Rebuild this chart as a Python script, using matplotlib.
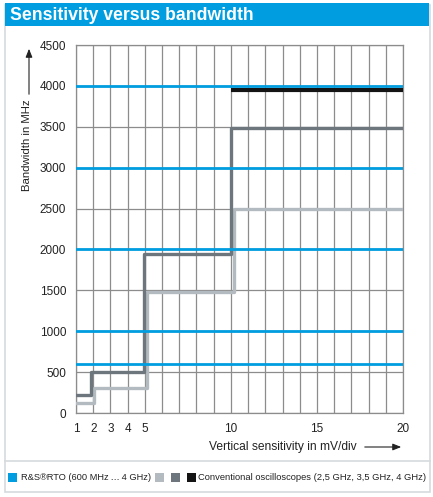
import matplotlib
matplotlib.use("Agg")
import matplotlib.pyplot as plt
from matplotlib.patches import Rectangle, FancyArrowPatch
from matplotlib.lines import Line2D

plt.rcParams['font.family'] = ['Liberation Sans', 'DejaVu Sans']

# R&S RTO models (MHz), flat over all sensitivities
rto_bw = [600, 1000, 2000, 3000, 4000]

# conventional scopes: sensitivity breakpoints (mV/div) and bandwidth (MHz)
conv_25_x = [1, 2.05, 5.15, 10.2, 20]
conv_25_bw = [125, 300, 1480, 2490, 2490]
conv_35_x = [1, 1.9, 4.95, 10, 20]
conv_35_bw = [220, 500, 1950, 3490, 3490]
conv_40_x = [10, 20]
conv_40_bw = [3955, 3955]

x_ticks = [1, 2, 3, 4, 5, 10, 15, 20]
y_ticks = [0, 500, 1000, 1500, 2000, 2500, 3000, 3500, 4000, 4500]

blue = "#009ee0"
light = "#b3bbc0"
dark = "#6d767c"
black = "#141414"
txt = "#222222"

W, H = 433, 497
fig = plt.figure(figsize=(W / 100, H / 100), dpi=100)
renderer = fig.canvas.get_renderer()


def fx(px):
    return px / W


def fy(py):
    return 1 - py / H


def fit(t, width_px):
    # scale font so the text spans a given width in pixels
    ext = t.get_window_extent(renderer)
    w = ext.height if t.get_rotation() == 90 else ext.width
    t.set_fontsize(t.get_fontsize() * width_px / w)


# outer frame, title band, legend separator
fig.patches.append(Rectangle((fx(5), fy(492)), fx(425), fy(5) - fy(492),
                             transform=fig.transFigure, fill=False, ec="#d5dadd", lw=1.2))
fig.patches.append(Rectangle((fx(5), fy(26)), fx(424), fy(3) - fy(26),
                             transform=fig.transFigure, color=blue, lw=0))
t = fig.text(fx(10), fy(15), "Sensitivity versus bandwidth", color="white",
             fontsize=13, fontweight="bold", va="center", ha="left")
fit(t, 242)
fig.lines.append(Line2D([fx(5), fx(430)], [fy(461), fy(461)], transform=fig.transFigure,
                        color="#d5dadd", lw=1.2))

ax = fig.add_axes([fx(76), fy(413), fx(403) - fx(76), fy(45) - fy(413)])
ax.set_xlim(1, 20)
ax.set_ylim(0, 4500)

for x in range(1, 21):
    ax.axvline(x, color="#8c8c8c", lw=0.9, zorder=1)
for y in y_ticks:
    ax.axhline(y, color="#8c8c8c", lw=0.9, zorder=1)

ax.plot(conv_40_x, conv_40_bw, color=black, lw=3.0, zorder=3, solid_capstyle="butt")
ax.plot(conv_25_x, conv_25_bw, drawstyle="steps-post", color=light, lw=2.4, zorder=3)
ax.plot(conv_35_x, conv_35_bw, drawstyle="steps-post", color=dark, lw=2.4, zorder=4)
for bw in rto_bw:
    ax.axhline(bw, color=blue, lw=2.0, zorder=5)

ax.set_xticks(x_ticks)
ax.set_yticks(y_ticks)
ax.tick_params(length=0, labelsize=8.5, colors=txt)
ax.tick_params(axis="x", pad=7)
ax.tick_params(axis="y", pad=7)
for s in ax.spines.values():
    s.set_color("#8c8c8c")
    s.set_linewidth(0.9)

# axis labels with arrows
t = fig.text(fx(27), fy(145), "Bandwidth in MHz", rotation=90, fontsize=8,
             ha="center", va="center", color=txt)
fit(t, 92)
fig.add_artist(FancyArrowPatch((fx(29), fy(97)), (fx(29), fy(46)),
               transform=fig.transFigure, arrowstyle="-|>,head_length=5,head_width=2",
               color=txt, lw=0.8))
t = fig.text(fx(357), fy(447), "Vertical sensitivity in mV/div", fontsize=8,
             ha="right", va="center", color=txt)
fit(t, 148)
fig.add_artist(FancyArrowPatch((fx(362), fy(447)), (fx(404), fy(447)),
               transform=fig.transFigure, arrowstyle="-|>,head_length=5,head_width=2",
               color=txt, lw=0.8))

# legend
for px, c in [(8, blue), (155, light), (171, dark), (187, black)]:
    fig.patches.append(Rectangle((fx(px), fy(482)), fx(9), fy(473) - fy(482),
                                 transform=fig.transFigure, color=c, lw=0))
t = fig.text(fx(21), fy(477.5), "R&S\u00aeRTO (600 MHz\u2009\u2026\u20094 GHz)", fontsize=8,
             ha="left", va="center", color=txt)
fit(t, 130)
t = fig.text(fx(198), fy(477.5), "Conventional oscilloscopes (2,5 GHz, 3,5 GHz, 4 GHz)",
             fontsize=8, ha="left", va="center", color=txt)
fit(t, 228)

fig.savefig("out.png", dpi=100)
